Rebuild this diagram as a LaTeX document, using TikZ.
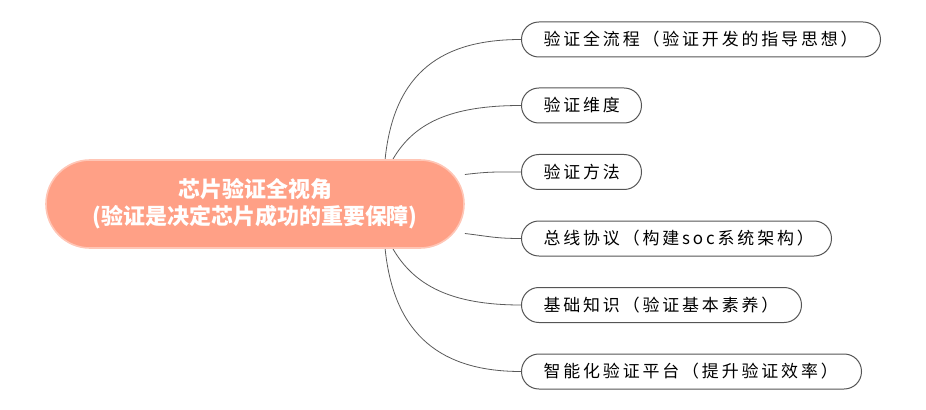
\documentclass[tikz,border=0pt]{standalone}
\usepackage{fontspec}
\setmainfont{Noto Sans CJK SC}
\newfontfamily\leaffont[LetterSpace=17]{Noto Sans CJK SC}
\usetikzlibrary{backgrounds}
\definecolor{rootfill}{HTML}{FFA086}
\definecolor{rootborder}{HTML}{FFC6B6}
\definecolor{leafborder}{HTML}{555555}
\definecolor{linkcolor}{HTML}{5A5A5A}
\begin{document}
\begin{tikzpicture}[x=0.75pt,y=-0.75pt,
  root/.style={rectangle, rounded corners=33pt, fill=rootfill, draw=rootborder, line width=1.2pt,
    minimum width=313.5pt, minimum height=66pt, text=white, inner sep=0pt,
    font=\bfseries\fontsize{16.5}{20.5}\selectfont, align=center},
  leaf/.style={rectangle, rounded corners=13pt, draw=leafborder, line width=0.75pt, fill=white,
    minimum height=26.25pt, anchor=west, inner xsep=16.5pt, inner ysep=0pt, align=left,
    font=\leaffont\fontsize{12.7}{14}\selectfont, text=black},
  link/.style={draw=linkcolor, line width=0.6pt}]
\useasboundingbox (0,0) rectangle (926,410);
\node[root] (c) at (255,204) {芯片验证全视角\\(验证是决定芯片成功的重要保障)};
\node[leaf, text width=236.25pt] (n1) at (521,39.5) {验证全流程（验证开发的指导思想）};
\node[leaf, text width=57pt] (n2) at (521,105.5) {验证维度};
\node[leaf, text width=57pt] (n3) at (521,172) {验证方法};
\node[leaf, text width=199.5pt] (n4) at (521,238.5) {总线协议（构建soc系统架构）};
\node[leaf, text width=177pt] (n5) at (521,305) {基础知识（验证基本素养）};
\node[leaf, text width=222pt] (n6) at (521,371.5) {智能化验证平台（提升验证效率）};
\begin{scope}[on background layer]
\draw[link] (c.19.8) .. controls +(9,-88) and +(-78,0) .. (n1.west);
\draw[link] (c.18.8) .. controls +(21,-36) and +(-71,0) .. (n2.west);
\draw[link] (c.8) .. controls +(25,-3) and +(-25,0) .. (n3.west);
\draw[link] (c.-8) .. controls +(25,3) and +(-25,0) .. (n4.west);
\draw[link] (c.-18.8) .. controls +(21,36) and +(-71,0) .. (n5.west);
\draw[link] (c.-19.8) .. controls +(9,88) and +(-78,0) .. (n6.west);
\end{scope}
\end{tikzpicture}
\end{document}
